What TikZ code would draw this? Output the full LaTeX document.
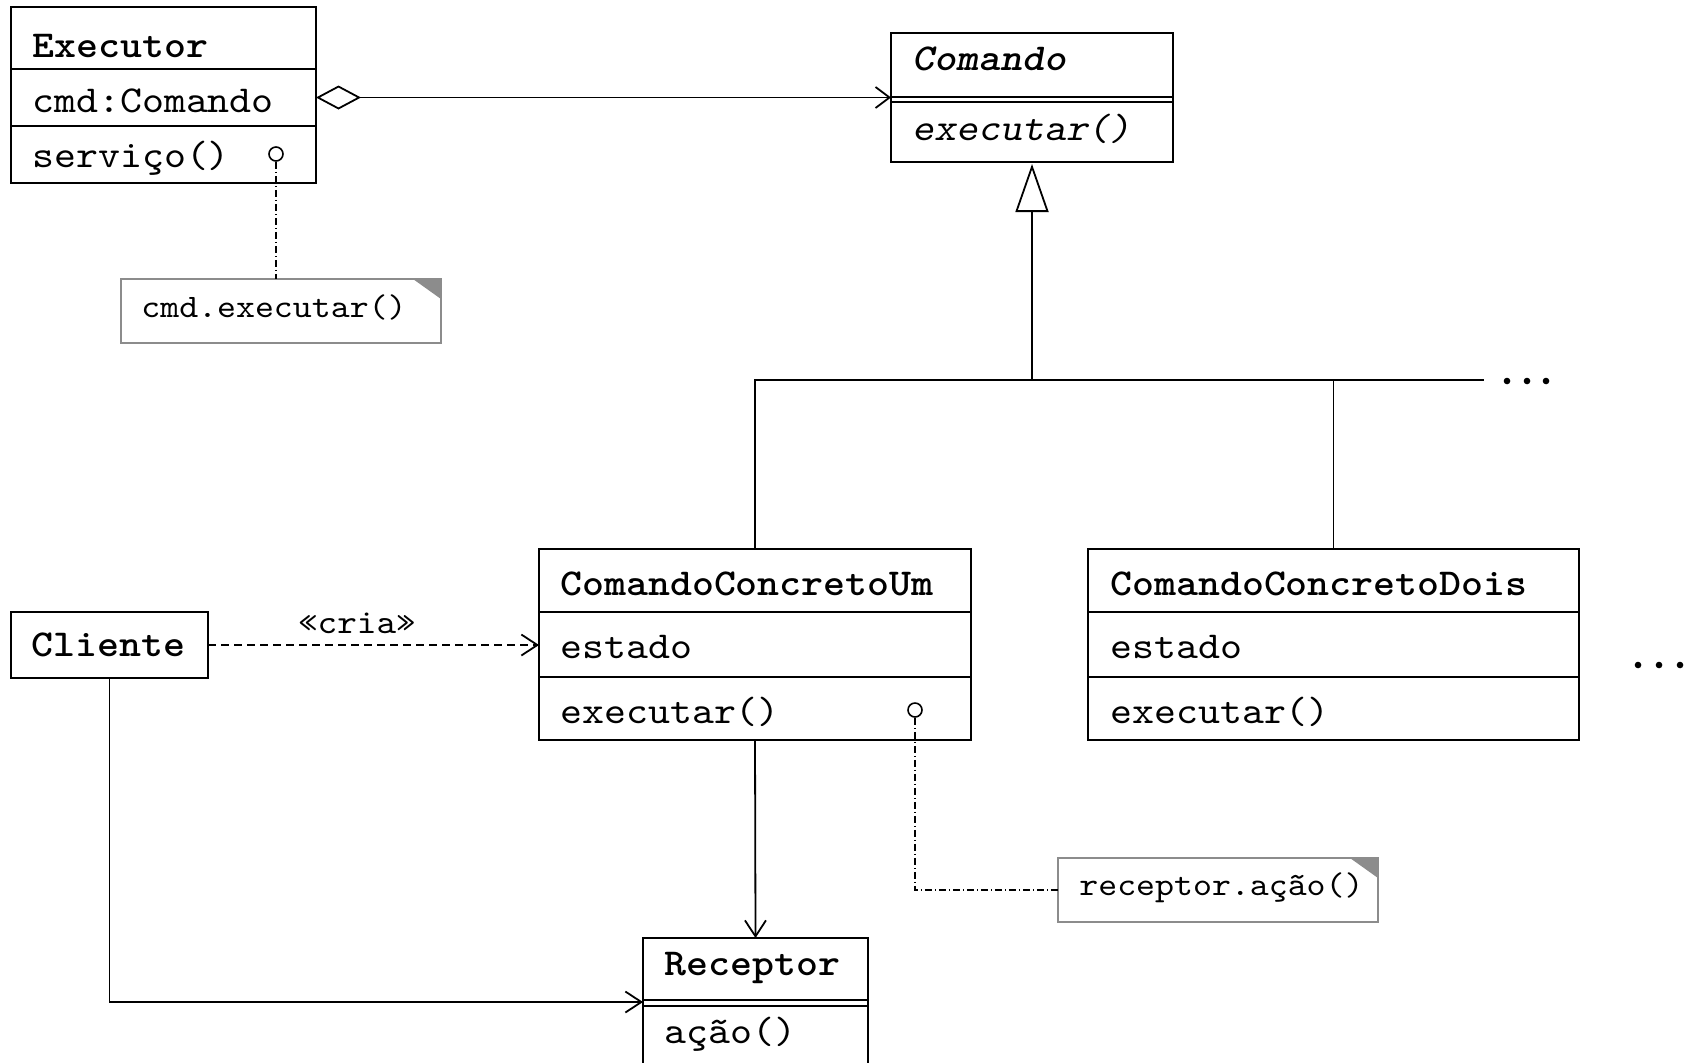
\documentclass[tikz,border=0pt]{standalone}
\usepackage{fontspec}
\newfontfamily\umlfont[Extension=.otf, UprightFont=lmmono10-regular, BoldFont=lmmonolt10-bold, ItalicFont=lmmonoslant10-regular, BoldItalicFont=lmmonolt10-boldoblique, FakeStretch=1.1]{lmmono10}
\usetikzlibrary{arrows.meta}
\definecolor{notegray}{HTML}{8C8C8C}
\begin{document}
\begin{tikzpicture}[x=0.5pt,y=-0.5pt,
  box/.style={draw, line width=1pt, inner sep=0pt, outer sep=0pt, anchor=north west},
  sep/.style={line width=1pt},
  cname/.style={anchor=base west, inner sep=0pt, font=\umlfont\bfseries\fontsize{19}{22}\selectfont},
  member/.style={anchor=base west, inner sep=0pt, font=\umlfont\fontsize{19}{22}\selectfont},
  notetext/.style={anchor=base west, inner sep=0pt, font=\umlfont\fontsize{16.4}{20}\selectfont},
  note/.style={draw=notegray, line width=0.8pt, inner sep=0pt, outer sep=0pt, anchor=north west},
  fold/.style={fill=notegray},
  link/.style={line width=0.9pt},
  openhead/.style={-{Straight Barb[length=8pt,width=10.5pt]}},
  depline/.style={dash pattern=on 4pt off 2.5pt},
  anchorline/.style={line width=0.8pt, dash pattern=on 3.5pt off 1.5pt on 0.5pt off 1.5pt},
  port/.style={circle, draw, line width=0.8pt, minimum size=7pt, inner sep=0pt, fill=white},
  dot/.style={fill=black}]
\useasboundingbox (0,0) rectangle (1690,1062);
\clip (0,0) rectangle (1690,1062);

% Executor
\node[box, minimum width=152.5pt, minimum height=88pt] (exec) at (11,7) {};
\draw[sep] (11,69) -- (316,69);
\draw[sep] (11,126) -- (316,126);
\node[cname] (execN) at (32,57) {Executor};
\node[member] (execA) at (32,112) {cmd:Comando};
\node[member] (execO) at (32,167) {serviço()};

% Comando
\node[box, minimum width=141pt, minimum height=64.5pt] (cmd) at (891,33) {};
\draw[sep] (891,97) -- (1173,97);
\draw[sep] (891,102) -- (1173,102);
\node[cname] (cmdN) at (912,70) {\itshape Comando};
\node[member] (cmdO) at (912,140) {\itshape executar()};

% ComandoConcretoUm
\node[box, minimum width=216pt, minimum height=95.5pt] (ccum) at (539,549) {};
\draw[sep] (539,612) -- (971,612);
\draw[sep] (539,677) -- (971,677);
\node[cname] (ccumN) at (560,595) {ComandoConcretoUm};
\node[member] (ccumA) at (560,658) {estado};
\node[member] (ccumO) at (560,723) {executar()};

% ComandoConcretoDois
\node[box, minimum width=245.5pt, minimum height=95.5pt] (ccdois) at (1088,549) {};
\draw[sep] (1088,612) -- (1579,612);
\draw[sep] (1088,677) -- (1579,677);
\node[cname] (ccdoisN) at (1110,595) {ComandoConcretoDois};
\node[member] (ccdoisA) at (1110,658) {estado};
\node[member] (ccdoisO) at (1110,723) {executar()};

% Cliente
\node[box, minimum width=98.5pt, minimum height=33pt] (cliente) at (11,612) {};
\node[cname] (clienteN) at (31,656) {Cliente};

% Receptor
\node[box, minimum width=112.5pt, minimum height=64pt] (recep) at (643,938) {};
\draw[sep] (643,1000) -- (868,1000);
\draw[sep] (643,1006) -- (868,1006);
\node[cname] (recepN) at (664,975) {Receptor};
\node[member] (recepO) at (664,1043) {ação()};

% Notes
\node[note, minimum width=160pt, minimum height=32pt] (note1) at (121,279) {};
\fill[fold] ([xshift=-14pt]note1.north east) -- (note1.north east) -- ([yshift=-10pt]note1.north east) -- cycle;
\node[notetext] (note1T) at (141,317) {cmd.executar()};

\node[note, minimum width=160pt, minimum height=32pt] (note2) at (1058,858) {};
\fill[fold] ([xshift=-14pt]note2.north east) -- (note2.north east) -- ([yshift=-10pt]note2.north east) -- cycle;
\node[notetext] (note2T) at (1079,895) {receptor.ação()};

% ports
\node[port] (p1) at (276,154) {};
\node[port] (p2) at (915,710) {};

% aggregation
\draw[link, {Diamond[open,length=22.5pt,width=12pt]}-{Straight Barb[length=7pt,width=10.5pt]}] (cmd.west -| exec.east) -- (cmd.west);

% generalization
\coordinate (bar) at (1032,380);
\coordinate (barend) at (1484,380);
\draw[link, -{Triangle[open,length=24pt,width=16.5pt]}, shorten >=1pt] (bar) -- (cmd.south);
\draw[link] (ccum.north) -- (ccum.north |- bar) -- (barend);
\draw[link] (ccdois.north) -- (ccdois.north |- bar);
\fill[dot] (1507,381) circle (3.3);
\fill[dot] (1527,381) circle (3.3);
\fill[dot] (1546,381) circle (3.3);
\fill[dot] (1638,665) circle (3.3);
\fill[dot] (1659,665) circle (3.3);
\fill[dot] (1680,665) circle (3.3);

% dependency
\draw[link, depline, openhead] (cliente.east) -- (cliente.east -| ccum.west)
  node[pos=0.45, anchor=base, inner sep=0pt, yshift=6pt, font=\umlfont\fontsize{17}{20}\selectfont] (cria) {«cria»};

% associations
\draw[link, openhead] (ccum.south) -- (recep.north);
\draw[link, openhead] (cliente.south) |- (recep.west);

% note anchors
\draw[anchorline] (p1.south) -- (p1.south |- note1.north);
\draw[anchorline] (p2.south) |- (note2.west);
\end{tikzpicture}
\end{document}
